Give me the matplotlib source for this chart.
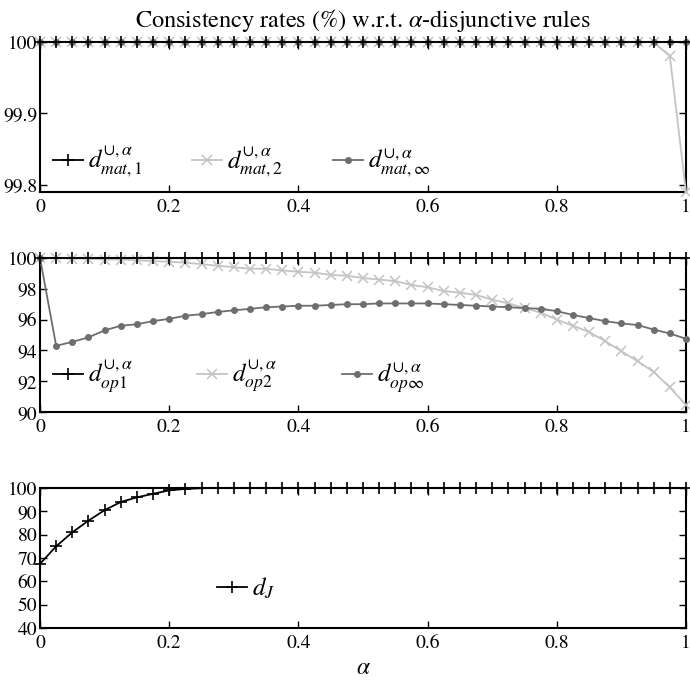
import numpy as np
import matplotlib
matplotlib.use("Agg")
import matplotlib.pyplot as plt

plt.rcParams['font.family'] = ['STIXGeneral', 'DejaVu Serif']
plt.rcParams['mathtext.fontset'] = 'stix'

alpha = [i * 0.025 for i in range(41)]

mat1 = [100.0] * 41
mat2 = [100.0] * 39 + [99.98, 99.79]
matinf = [100.0] * 41

op1 = [100.0] * 41
op2 = [100.0, 100.0, 99.95, 99.95, 99.9, 99.9, 99.85, 99.8, 99.75, 99.7,
       99.6, 99.5, 99.4, 99.3, 99.3, 99.2, 99.1, 99.05, 98.9, 98.85,
       98.7, 98.6, 98.5, 98.25, 98.1, 97.85, 97.75, 97.6, 97.3, 97.05,
       96.75, 96.45, 96.0, 95.6, 95.2, 94.6, 93.95, 93.3, 92.6, 91.6, 90.45]
opinf = [100.0, 94.3, 94.55, 94.85, 95.3, 95.6, 95.7, 95.9, 96.05, 96.25,
         96.35, 96.5, 96.6, 96.7, 96.8, 96.85, 96.9, 96.9, 96.95, 97.0,
         97.0, 97.05, 97.05, 97.05, 97.05, 97.0, 96.95, 96.9, 96.85, 96.8,
         96.75, 96.7, 96.55, 96.3, 96.1, 95.9, 95.75, 95.65, 95.35, 95.1, 94.75]

dJ = [67.5, 75.0, 81.0, 86.0, 90.5, 94.0, 96.0, 97.5, 99.0, 99.6, 99.9] + [100.0] * 30

xticks = [0, 0.2, 0.4, 0.6, 0.8, 1]
xticklabels = ['0', '0.2', '0.4', '0.6', '0.8', '1']
yticks1 = [99.8, 99.9, 100]
yticks2 = [90, 92, 94, 96, 98, 100]
yticks3 = [40, 50, 60, 70, 80, 90, 100]

BLACK = '#000000'
LIGHT = '#c4c4c4'
DARK = '#6e6e6e'

fig = plt.figure(figsize=(6.9, 6.82), dpi=100)
L, W = 40 / 690, 646 / 690
ax1 = fig.add_axes([L, 1 - 192 / 682, W, 150 / 682])
ax2 = fig.add_axes([L, 1 - 412 / 682, W, 154 / 682])
ax3 = fig.add_axes([L, 1 - 628 / 682, W, 140 / 682])

FS = 14
LFS = 18

def style(ax, yticks, ylim):
    ax.set_xlim(0, 1)
    ax.set_ylim(*ylim)
    ax.set_xticks(xticks)
    ax.set_xticklabels(xticklabels)
    ax.set_yticks(yticks)
    ax.set_yticklabels([('%g' % v) for v in yticks])
    ax.tick_params(direction='in', top=True, right=True, length=5, width=1.0,
                   labelsize=FS)
    ax.tick_params(axis='x', pad=5)
    ax.tick_params(axis='y', pad=2)
    for s in ax.spines.values():
        s.set_linewidth(1.5)

def plot3(ax, ys, labels):
    ax.plot(alpha, ys[0], color=BLACK, marker='+', ms=8, mew=1.2, lw=1.3,
            clip_on=False, zorder=5, label=labels[0])
    ax.plot(alpha, ys[1], color=LIGHT, marker='x', ms=7, mew=1.1, lw=1.3,
            clip_on=False, zorder=3, label=labels[1])
    ax.plot(alpha, ys[2], color=DARK, marker='o', ms=4, lw=1.3,
            clip_on=False, zorder=4, label=labels[2])

plot3(ax1, [mat1, mat2, matinf],
      [r'$d^{\cup,\alpha}_{mat,1}$', r'$d^{\cup,\alpha}_{mat,2}$', r'$d^{\cup,\alpha}_{mat,\infty}$'])
style(ax1, yticks1, (99.79, 100))
ax1.legend(loc='lower left', bbox_to_anchor=(0.0, 0.0), ncol=3, frameon=False,
           fontsize=LFS, handlelength=1.2, handletextpad=0.2, columnspacing=2.0,
           borderaxespad=0.1)
ax1.set_title(r'Consistency rates (%) w.r.t. $\alpha$-disjunctive rules', fontsize=17.5, pad=11)

plot3(ax2, [op1, op2, opinf],
      [r'$d^{\cup,\alpha}_{op1}$', r'$d^{\cup,\alpha}_{op2}$', r'$d^{\cup,\alpha}_{op\infty}$'])
style(ax2, yticks2, (90, 100))
ax2.legend(loc='lower left', bbox_to_anchor=(0.0, 0.03), ncol=3, frameon=False,
           fontsize=LFS, handlelength=1.2, handletextpad=0.2, columnspacing=2.6,
           borderaxespad=0.1)

ax3.plot(alpha, dJ, color=BLACK, marker='+', ms=8, mew=1.2, lw=1.3,
         clip_on=False, zorder=5, label=r'$d_J$')
style(ax3, yticks3, (40, 100))
ax3.legend(loc='lower left', bbox_to_anchor=(0.255, 0.1), frameon=False,
           fontsize=LFS, handlelength=1.2, handletextpad=0.2, borderaxespad=0.1)
ax3.set_xlabel(r'$\alpha$', fontsize=17, labelpad=4)

fig.savefig('out.png', dpi=100)
